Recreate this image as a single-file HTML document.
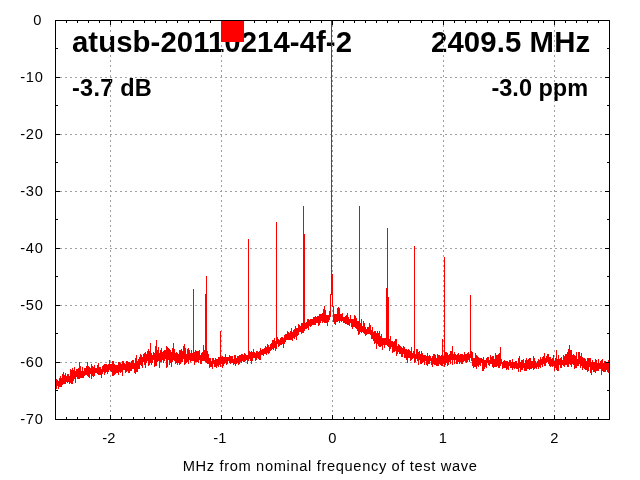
<!DOCTYPE html>
<html><head><meta charset="utf-8"><title>atusb-20110214-4f-2</title>
<style>
html,body{margin:0;padding:0;background:#fff;}
body{width:640px;height:480px;overflow:hidden;font-family:"Liberation Sans",sans-serif;}
svg{display:block;}
text{font-family:"Liberation Sans",sans-serif;fill:#000;}
.ax text{font-size:14.67px;}
.b{font-weight:bold;}
</style></head><body>
<svg width="640" height="480" viewBox="0 0 640 480">
<rect width="640" height="480" fill="#fff"/>
<text class="b" x="72" y="52" font-size="29.33" textLength="280" lengthAdjust="spacing">atusb-20110214-4f-2</text>
<text class="b" x="431" y="52" font-size="29.33" textLength="159.1" lengthAdjust="spacing">2409.5 MHz</text>
<text class="b" x="72" y="96" font-size="23.5" textLength="79.8" lengthAdjust="spacing">-3.7 dB</text>
<text class="b" x="588.1" y="96" font-size="23.5" text-anchor="end">-3.0 ppm</text>
<path d="M110.5 20V419M221.5 20V419M332.5 20V419M443.5 20V419M554.5 20V419M55 362.5H609M55 305.5H609M55 248.5H609M55 191.5H609M55 134.5H609M55 77.5H609" stroke="#a0a0a0" stroke-width="1" stroke-dasharray="2 3" fill="none" shape-rendering="crispEdges"/>
<path d="M55 382v7M56 379v10M57 380v6M58 381v8M59 378v9M60 376v11M61 378v9M62 374v11M63 372v12M64 375v9M65 373v11M66 376v6M67 374v9M68 374v8M69 376v8M70 369v14M71 370v14M72 368v16M73 370v11M74 367v12M75 371v12M76 369v8M77 369v10M78 368v11M79 362v17M80 366v12M81 371v7M82 367v11M83 371v7M84 368v8M85 368v7M86 366v9M87 362v14M88 366v11M89 367v11M90 368v6M91 364v15M92 366v10M93 367v10M94 365v11M95 368v5M96 368v5M97 365v9M98 363v12M99 367v8M100 367v8M101 369v9M102 366v8M103 365v7M104 364v11M105 364v9M106 364v8M107 365v9M108 364v8M109 360v10M110 364v7M111 364v8M112 361v15M113 361v15M114 364v11M115 365v9M116 365v8M117 365v8M118 362v13M119 362v10M120 363v10M121 364v8M122 361v15M123 361v9M124 363v7M125 364v9M126 361v11M127 361v10M128 362v11M129 362v11M130 363v8M131 361v10M132 360v9M133 360v9M134 363v10M135 358v16M136 355v17M137 361v11M138 359v10M139 357v12M140 354v11M141 355v11M142 357v11M143 354v8M144 353v12M145 352v16M146 354v9M147 351v10M148 349v17M149 351v14M150 343v20M151 353v12M152 355v8M153 352v8M154 353v14M155 346v20M156 340v26M157 350v12M158 347v14M159 353v15M160 350v12M161 348v14M162 352v8M163 351v12M164 350v11M165 350v9M166 346v22M167 347v20M168 348v12M169 349v16M170 350v13M171 352v15M172 348v14M173 343v17M174 349v12M175 353v11M176 352v11M177 353v12M178 354v9M179 350v15M180 350v14M181 349v13M182 351v11M183 346v13M184 344v21M185 348v16M186 354v9M187 349v13M188 348v16M189 350v10M190 353v9M191 350v11M192 353v8M193 289v72M194 352v13M195 350v12M196 351v11M197 351v11M198 351v12M199 350v10M200 355v9M201 353v11M202 352v9M203 345v16M204 350v11M205 294v68M206 276v87M207 351v13M208 354v10M209 358v10M210 358v9M211 361v6M212 358v11M213 358v6M214 360v7M215 358v9M216 359v9M217 359v7M218 357v10M219 357v8M220 331v36M221 357v7M222 356v12M223 357v9M224 357v7M225 354v9M226 357v8M227 357v7M228 357v4M229 355v8M230 356v8M231 356v7M232 356v7M233 359v6M234 355v9M235 355v11M236 358v6M237 356v7M238 356v9M239 355v9M240 355v7M241 354v9M242 354v7M243 355v7M244 353v9M245 354v7M246 355v5M247 355v9M248 239v122M249 351v8M250 352v9M251 351v13M252 352v9M253 349v9M254 352v6M255 353v8M256 351v9M257 351v7M258 352v7M259 351v9M260 348v12M261 350v5M262 349v6M263 349v7M264 348v6M265 346v8M266 347v8M267 344v9M268 345v9M269 347v6M270 344v7M271 343v7M272 340v9M273 340v10M274 338v10M275 341v10M276 222v127M277 337v7M278 339v8M279 340v6M280 338v7M281 337v8M282 337v7M283 338v10M284 335v9M285 334v8M286 334v6M287 331v9M288 332v8M289 333v7M290 331v9M291 328v12M292 332v9M293 330v8M294 329v10M295 326v11M296 328v12M297 328v8M298 324v11M299 325v7M300 326v6M301 323v11M302 323v10M303 206v127M304 234v97M305 323v6M306 322v7M307 319v9M308 319v11M309 320v6M310 319v8M311 319v7M312 319v6M313 317v8M314 317v8M315 316v9M316 317v6M317 316v7M318 316v10M319 314v11M320 314v9M321 314v7M322 313v10M323 309v13M324 306v17M325 310v13M326 315v8M327 315v11M328 315v7M329 311v9M330 294v23M331 21v274M332 274v33M333 306v16M334 314v10M335 314v11M336 314v8M337 308v14M338 307v14M339 308v15M340 314v7M341 314v8M342 313v8M343 317v6M344 317v6M345 316v8M346 315v9M347 313v12M348 317v8M349 319v7M350 315v8M351 319v8M352 319v10M353 319v8M354 315v12M355 316v12M356 318v11M357 321v10M358 321v14M359 206v128M360 323v9M361 319v14M362 326v6M363 321v12M364 323v11M365 327v9M366 329v6M367 327v7M368 327v7M369 323v11M370 325v10M371 330v9M372 327v12M373 332v9M374 331v13M375 331v12M376 333v16M377 331v13M378 333v13M379 331v16M380 336v11M381 334v12M382 338v12M383 338v7M384 338v10M385 338v7M386 288v57M387 228v118M388 297v50M389 339v12M390 336v13M391 341v6M392 341v12M393 342v10M394 341v11M395 339v12M396 339v17M397 346v8M398 344v8M399 345v9M400 346v8M401 347v10M402 348v9M403 346v8M404 347v11M405 349v9M406 349v11M407 350v13M408 349v9M409 350v8M410 351v10M411 347v13M412 353v6M413 351v7M414 246v117M415 354v8M416 349v10M417 349v12M418 352v13M419 351v9M420 354v10M421 351v13M422 353v10M423 355v7M424 355v10M425 355v6M426 356v9M427 353v13M428 356v8M429 355v9M430 356v5M431 358v7M432 356v11M433 354v10M434 354v11M435 355v10M436 358v8M437 354v12M438 355v11M439 355v9M440 356v9M441 355v11M442 339v27M443 356v8M444 257v110M445 352v13M446 352v11M447 353v13M448 355v10M449 354v8M450 351v13M451 351v9M452 346v19M453 354v6M454 352v12M455 354v6M456 355v9M457 354v10M458 353v9M459 355v9M460 354v8M461 354v10M462 354v10M463 355v7M464 352v9M465 354v8M466 354v9M467 353v9M468 352v8M469 354v8M470 295v63M471 351v10M472 352v14M473 358v10M474 358v9M475 353v14M476 355v14M477 356v10M478 357v10M479 358v7M480 358v8M481 358v5M482 359v12M483 357v14M484 360v9M485 360v7M486 358v10M487 357v6M488 357v8M489 360v6M490 355v9M491 357v7M492 356v11M493 356v12M494 359v8M495 353v14M496 355v12M497 355v11M498 354v14M499 353v15M500 347v19M501 359v5M502 362v7M503 361v7M504 360v8M505 361v7M506 361v9M507 361v8M508 362v8M509 360v6M510 360v8M511 362v6M512 359v11M513 362v6M514 362v7M515 361v7M516 361v8M517 363v6M518 358v14M519 356v12M520 362v10M521 360v10M522 360v10M523 359v9M524 363v8M525 360v11M526 358v13M527 360v9M528 359v10M529 358v12M530 358v11M531 361v8M532 361v7M533 356v14M534 358v11M535 361v7M536 363v6M537 361v6M538 359v10M539 360v7M540 357v11M541 359v6M542 357v10M543 356v8M544 353v13M545 358v8M546 356v7M547 354v8M548 354v10M549 357v9M550 357v10M551 359v7M552 358v9M553 355v11M554 361v10M555 358v10M556 350v20M557 359v12M558 355v16M559 359v6M560 358v10M561 357v11M562 360v5M563 355v11M564 356v11M565 354v11M566 354v11M567 352v15M568 349v18M569 345v19M570 350v15M571 350v17M572 355v9M573 354v11M574 355v14M575 356v12M576 352v16M577 359v7M578 352v14M579 352v12M580 356v12M581 353v13M582 357v13M583 358v10M584 358v11M585 359v11M586 361v9M587 358v14M588 358v13M589 358v9M590 358v15M591 362v13M592 360v10M593 362v10M594 362v10M595 359v14M596 360v11M597 363v8M598 359v12M599 363v6M600 361v8M601 360v15M602 359v12M603 363v9M604 361v11M605 361v11M606 363v7M607 363v9M608 360v13M609 361v9" transform="translate(0.5,0)" stroke="#f00" stroke-width="1" fill="none" shape-rendering="crispEdges"/>
<path d="M55.5 20v3M55.5 420v-3M66.5 20v3M66.5 420v-3M77.5 20v3M77.5 420v-3M88.5 20v3M88.5 420v-3M99.5 20v3M99.5 420v-3M110.5 20v5M110.5 420v-5M121.5 20v3M121.5 420v-3M133.5 20v3M133.5 420v-3M144.5 20v3M144.5 420v-3M155.5 20v3M155.5 420v-3M166.5 20v3M166.5 420v-3M177.5 20v3M177.5 420v-3M188.5 20v3M188.5 420v-3M199.5 20v3M199.5 420v-3M210.5 20v3M210.5 420v-3M221.5 20v5M221.5 420v-5M232.5 20v3M232.5 420v-3M243.5 20v3M243.5 420v-3M254.5 20v3M254.5 420v-3M266.5 20v3M266.5 420v-3M277.5 20v3M277.5 420v-3M288.5 20v3M288.5 420v-3M299.5 20v3M299.5 420v-3M310.5 20v3M310.5 420v-3M321.5 20v3M321.5 420v-3M332.5 20v5M332.5 420v-5M343.5 20v3M343.5 420v-3M354.5 20v3M354.5 420v-3M365.5 20v3M365.5 420v-3M376.5 20v3M376.5 420v-3M387.5 20v3M387.5 420v-3M398.5 20v3M398.5 420v-3M410.5 20v3M410.5 420v-3M421.5 20v3M421.5 420v-3M432.5 20v3M432.5 420v-3M443.5 20v5M443.5 420v-5M454.5 20v3M454.5 420v-3M465.5 20v3M465.5 420v-3M476.5 20v3M476.5 420v-3M487.5 20v3M487.5 420v-3M498.5 20v3M498.5 420v-3M509.5 20v3M509.5 420v-3M520.5 20v3M520.5 420v-3M531.5 20v3M531.5 420v-3M543.5 20v3M543.5 420v-3M554.5 20v5M554.5 420v-5M565.5 20v3M565.5 420v-3M576.5 20v3M576.5 420v-3M587.5 20v3M587.5 420v-3M598.5 20v3M598.5 420v-3M609.5 20v3M609.5 420v-3M55 20.5h5M610 20.5h-5M55 48.5h3M610 48.5h-3M55 77.5h5M610 77.5h-5M55 105.5h3M610 105.5h-3M55 134.5h5M610 134.5h-5M55 162.5h3M610 162.5h-3M55 191.5h5M610 191.5h-5M55 219.5h3M610 219.5h-3M55 248.5h5M610 248.5h-5M55 276.5h3M610 276.5h-3M55 305.5h5M610 305.5h-5M55 333.5h3M610 333.5h-3M55 362.5h5M610 362.5h-5M55 390.5h3M610 390.5h-3M55 419.5h5M610 419.5h-5" stroke="#000" stroke-width="1" fill="none" shape-rendering="crispEdges"/>
<rect x="55.5" y="20.5" width="554" height="399" fill="none" stroke="#000" stroke-width="1" shape-rendering="crispEdges"/>
<rect x="221" y="21" width="23" height="21" fill="#f00" shape-rendering="crispEdges"/>
<g class="ax"><text x="33.3" y="25">0</text><text x="20.2" y="82" textLength="22.7" lengthAdjust="spacing">-10</text><text x="20.2" y="139" textLength="22.7" lengthAdjust="spacing">-20</text><text x="20.2" y="196" textLength="22.7" lengthAdjust="spacing">-30</text><text x="20.2" y="253" textLength="22.7" lengthAdjust="spacing">-40</text><text x="20.2" y="310" textLength="22.7" lengthAdjust="spacing">-50</text><text x="20.2" y="367" textLength="22.7" lengthAdjust="spacing">-60</text><text x="20.2" y="424" textLength="22.7" lengthAdjust="spacing">-70</text><text x="102.35" y="443">-2</text><text x="213.3" y="443">-1</text><text x="328.3" y="443">0</text><text x="438.8" y="443">1</text><text x="550.3" y="443">2</text>
<text x="182.7" y="471" textLength="294.2" lengthAdjust="spacing">MHz from nominal frequency of test wave</text></g>
</svg>
</body></html>
